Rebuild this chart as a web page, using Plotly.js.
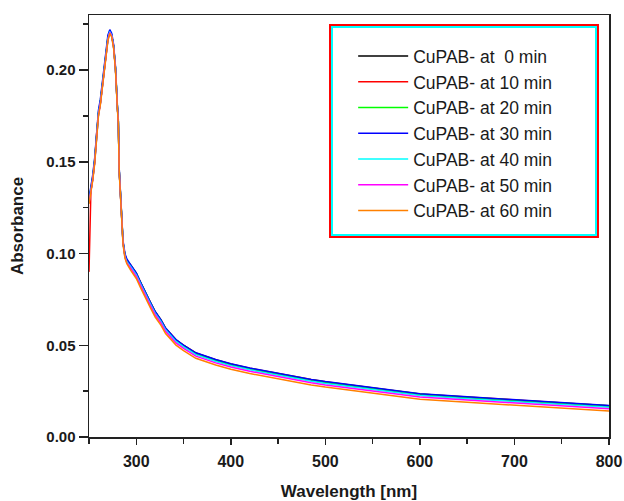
<!DOCTYPE html>
<html>
<head>
<meta charset="utf-8">
<script src="https://cdn.plot.ly/plotly-3.0.1.min.js"></script>
<style>html,body{margin:0;padding:0;background:#fff;}#chart{width:624px;height:501px;}</style>
</head>
<body>
<div id="chart"></div>
<script>
// Wavelength (nm)
const wavelength = [250,252,254,256,258,260,262,264,266,268,270,272,274,276,278,280,281,282,284,286,288,290,294,300,305,310,315,320,326,331,342,350,363,384,400,420,455,485,500,550,600,650,700,750,800];

const abs0min = [0.128,0.134,0.141,0.150,0.165,0.176,0.182,0.190,0.200,0.209,
0.217,0.221,0.219,0.213,0.201,0.180,0.172,0.145,0.122,0.106,
0.099,0.096,0.0935,0.089,0.0835,0.078,0.073,0.068,0.0636,0.059,
0.0527,0.0497,0.0455,0.0418,0.0395,0.0372,0.0337,0.031,0.0298,0.0265,
0.0232,0.0215,0.0200,0.0183,0.0168];

const abs10min = [0.090,0.134,0.141,0.150,0.165,0.176,0.182,0.190,0.200,0.209,
0.217,0.221,0.219,0.213,0.201,0.180,0.172,0.145,0.122,0.106,
0.099,0.096,0.0937,0.0893,0.0838,0.0783,0.0733,0.0683,0.0639,0.0593,
0.0530,0.0500,0.0458,0.0421,0.0398,0.0375,0.0340,0.0313,0.0301,0.0268,
0.0235,0.0218,0.0203,0.0186,0.0171];

const abs20min = [0.129,0.135,0.142,0.151,0.166,0.177,0.183,0.191,0.201,0.210,
0.218,0.2215,0.219,0.213,0.201,0.180,0.172,0.145,0.122,0.106,
0.099,0.096,0.0936,0.0892,0.0837,0.0782,0.0732,0.0682,0.0638,0.0592,
0.0529,0.0499,0.0457,0.0420,0.0397,0.0374,0.0339,0.0312,0.0300,0.0267,
0.0234,0.0217,0.0202,0.0185,0.0170];

const abs30min = [0.130,0.136,0.143,0.152,0.167,0.178,0.184,0.192,0.202,0.211,
0.219,0.222,0.220,0.214,0.202,0.181,0.173,0.146,0.123,0.107,
0.100,0.097,0.0939,0.0894,0.0839,0.0784,0.0734,0.0684,0.0640,0.0594,
0.0531,0.0501,0.0459,0.0422,0.0399,0.0376,0.0341,0.0314,0.0302,0.0269,
0.0236,0.0219,0.0204,0.0187,0.0172];

const abs40min = [0.128,0.134,0.141,0.150,0.165,0.176,0.182,0.190,0.200,0.209,
0.217,0.221,0.219,0.213,0.201,0.180,0.172,0.145,0.122,0.106,
0.0985,0.0955,0.0929,0.0884,0.0829,0.0774,0.0724,0.0674,0.0630,0.0584,
0.0521,0.0491,0.0449,0.0412,0.0389,0.0366,0.0331,0.0304,0.0292,0.0259,
0.0226,0.0209,0.0194,0.0177,0.0162];

const abs50min = [0.1275,0.1335,0.1405,0.1495,0.1645,0.1755,0.1815,0.1895,0.1995,0.2085,
0.2165,0.2205,0.2185,0.2125,0.2005,0.1795,0.1715,0.1445,0.1215,0.1055,
0.098,0.095,0.0921,0.0876,0.0821,0.0766,0.0716,0.0666,0.0622,0.0576,
0.0513,0.0483,0.0441,0.0404,0.0381,0.0358,0.0323,0.0296,0.0284,0.0251,
0.0218,0.0201,0.0186,0.0169,0.0154];

const abs60min = [0.127,0.133,0.140,0.149,0.164,0.175,0.181,0.189,0.199,0.208,
0.216,0.220,0.218,0.212,0.200,0.179,0.171,0.144,0.121,0.105,
0.0975,0.0945,0.0909,0.0864,0.0809,0.0754,0.0704,0.0654,0.0610,0.0564,
0.0501,0.0471,0.0429,0.0392,0.0369,0.0346,0.0311,0.0284,0.0272,0.0239,
0.0206,0.0189,0.0174,0.0157,0.0142];

const seriesNames = ["CuPAB- at \u00a00 min","CuPAB- at 10 min","CuPAB- at 20 min","CuPAB- at 30 min","CuPAB- at 40 min","CuPAB- at 50 min","CuPAB- at 60 min"];
const seriesValues = [abs0min, abs10min, abs20min, abs30min, abs40min, abs50min, abs60min];
const seriesColors = ["#000000","#ff0000","#00ff00","#0000ff","#00ffff","#ff00ff","#ff8000"];

const traces = seriesValues.map((vals, i) => ({
  x: wavelength,
  y: vals,
  type: "scatter",
  mode: "lines",
  name: seriesNames[i],
  legendgroup: "g" + i,
  line: {color: seriesColors[i], width: 1.5}
}));

const FONT = "Arial, 'Liberation Sans', sans-serif";

const layout = {
  width: 624,
  height: 501,
  margin: {l: 89, r: 15, t: 15, b: 64},
  paper_bgcolor: "#ffffff",
  plot_bgcolor: "#ffffff",
  showlegend: true,
  legend: {
    x: 0.508, y: 0.945, xanchor: "left", yanchor: "top",
    bgcolor: "rgba(0,0,0,0)", borderwidth: 0,
    font: {family: FONT, size: 17.5, color: "#1a1a1a"},
    traceorder: "grouped", tracegroupgap: 0, itemwidth: 50
  },
  xaxis: {
    range: [250, 800],
    dtick: 100, tick0: 300,
    ticks: "outside", ticklen: 6, tickwidth: 1.5, tickcolor: "#222",
    minor: {dtick: 50, tick0: 250, ticklen: 5, tickwidth: 1.5, tickcolor: "#222", ticks: "outside"},
    showline: true, linecolor: "#222", linewidth: 1.5, mirror: true,
    showgrid: false, zeroline: false,
    ticklabelstandoff: 3,
    tickfont: {family: FONT, size: 16, color: "#1a1a1a", weight: "bold"},
    title: {text: "Wavelength [nm]", font: {family: FONT, size: 17, color: "#1a1a1a", weight: "bold"}, standoff: 16}
  },
  yaxis: {
    range: [0, 0.23],
    dtick: 0.05, tick0: 0,
    tickformat: ".2f",
    ticks: "outside", ticklen: 9, tickwidth: 1.5, tickcolor: "#222",
    minor: {dtick: 0.025, ticklen: 5, tickwidth: 1.5, tickcolor: "#222", ticks: "outside"},
    showline: true, linecolor: "#222", linewidth: 1.5, mirror: true,
    showgrid: false, zeroline: false,
    tickfont: {family: FONT, size: 15, color: "#1a1a1a", weight: "bold"},
    title: {text: "Absorbance", font: {family: FONT, size: 17, color: "#1a1a1a", weight: "bold"}, standoff: 18}
  },
  shapes: [
    {type: "rect", xref: "paper", yref: "paper", x0: 0.4635, x1: 0.9788, y0: 0.474, y1: 0.9763, line: {color: "#ff0000", width: 2}, fillcolor: "rgba(0,0,0,0)"},
    {type: "rect", xref: "paper", yref: "paper", x0: 0.4673, x1: 0.975, y0: 0.4787, y1: 0.9716, line: {color: "#00ffff", width: 2}, fillcolor: "rgba(0,0,0,0)"}
  ]
};

Plotly.newPlot("chart", traces, layout, {displayModeBar: false, staticPlot: true});
</script>
</body>
</html>
